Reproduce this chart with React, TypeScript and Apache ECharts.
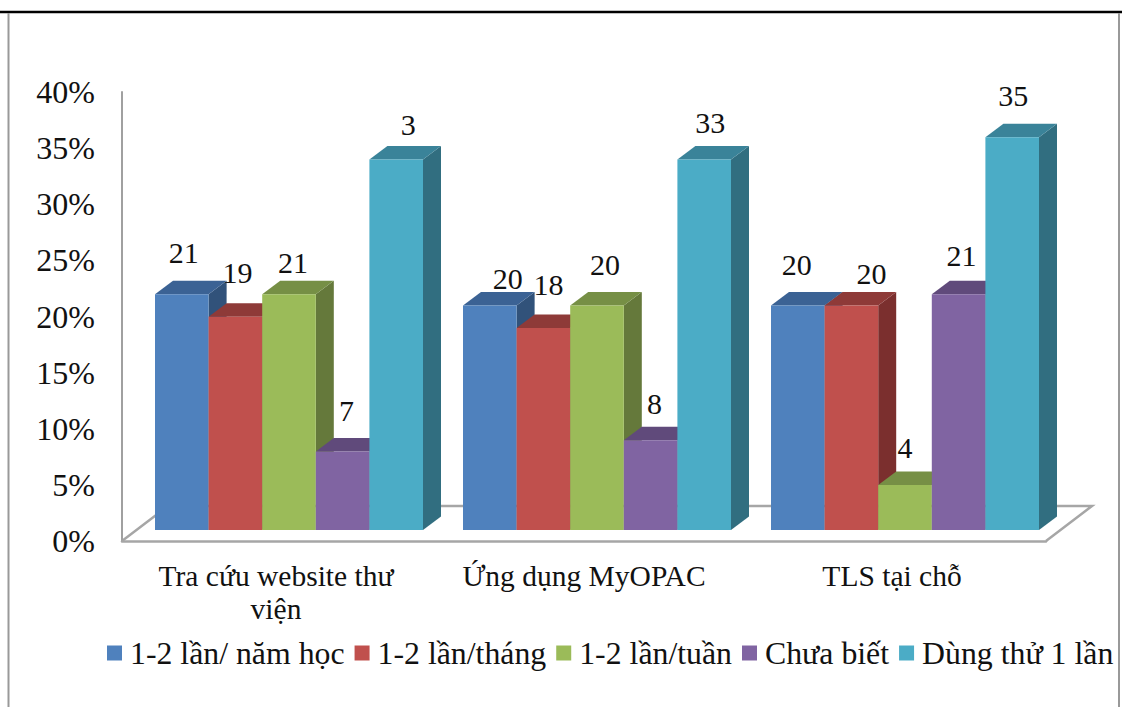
import React, { useEffect, useRef } from "react";
import * as echarts from "echarts";

// Survey of how often each library service is used, by frequency of use.
const categories = ["Tra cứu website thư\nviện", "Ứng dụng MyOPAC", "TLS tại chỗ"];
const seriesNames = ["1-2 lần/ năm học", "1-2 lần/tháng", "1-2 lần/tuần", "Chưa biết", "Dùng thử 1 lần"];
const yearlyUse = [21, 20, 20];
const monthlyUse = [19, 18, 20];
const weeklyUse = [21, 20, 4];
const unknownUse = [7, 8, 21];
const triedOnce = [33, 33, 35];
const valuesBySeries = [yearlyUse, monthlyUse, weeklyUse, unknownUse, triedOnce];

// Printed data labels; the first "Dùng thử 1 lần" label is printed as a lone 3.
const labelsBySeries = [
  ["21", "20", "20"],
  ["19", "18", "20"],
  ["21", "20", "4"],
  ["7", "8", "21"],
  ["3", "33", "35"],
];

// Hand placement of each data label, relative to the top centre of its bar.
const labelNudges: [number, number][][] = [
  [[2, -42], [18, -27], [-1, -41]],
  [[2, -44], [5, -43], [20, -32]],
  [[4, -32], [8, -41], [0, -38]],
  [[4, -41], [4, -37], [3, -39]],
  [[12, -35], [6, -37], [1, -42]],
];

const frontColors = ["#4F81BD", "#C0504D", "#9BBB59", "#8064A2", "#4BACC6"];
const topColors = ["#3B6294", "#8E3A38", "#768F45", "#604A7B", "#3A8399"];
const sideColors = ["#31527A", "#7B2F2E", "#65793B", "#534068", "#316E80"];

const FONT = "'Liberation Serif', 'Times New Roman', serif";
const GRID = { left: 122, top: 92, width: 924, height: 449 };
const BAR_WIDTH = 53.6;
const PLANE_SHIFT = [13, -11]; // front faces sit a little behind the floor's front edge
const BAR_DEPTH = [18, -13.5];
const FLOOR_DEPTH = [46, -35];

function barRenderer(seriesIndex: number) {
  return (params: any, api: any) => {
    const catIndex = api.value(0);
    const value = api.value(1);
    const base = api.coord([catIndex, 0]);
    const tip = api.coord([catIndex, value]);
    const cx = base[0] + PLANE_SHIFT[0] + (seriesIndex - 2) * BAR_WIDTH;
    const x0 = cx - BAR_WIDTH / 2;
    const x1 = cx + BAR_WIDTH / 2;
    const y0 = base[1] + PLANE_SHIFT[1];
    const y1 = tip[1] + PLANE_SHIFT[1];
    const [dx, dy] = BAR_DEPTH;
    const nudge = labelNudges[seriesIndex][catIndex];
    return {
      type: "group",
      children: [
        {
          type: "polygon",
          shape: { points: [[x1, y0], [x1 + dx, y0 + dy], [x1 + dx, y1 + dy], [x1, y1]] },
          style: { fill: sideColors[seriesIndex] },
        },
        {
          type: "polygon",
          shape: { points: [[x0, y1], [x0 + dx, y1 + dy], [x1 + dx, y1 + dy], [x1, y1]] },
          style: { fill: topColors[seriesIndex] },
        },
        {
          type: "rect",
          shape: { x: x0, y: y1, width: BAR_WIDTH, height: y0 - y1 },
          style: { fill: frontColors[seriesIndex] },
        },
        {
          type: "text",
          z2: 100,
          x: cx + nudge[0],
          y: y1 + nudge[1],
          style: {
            text: labelsBySeries[seriesIndex][catIndex],
            fill: "#111",
            font: `30px ${FONT}`,
            textAlign: "center",
            textVerticalAlign: "middle",
          },
        },
      ],
    };
  };
}

export default function App() {
  const ref = useRef<HTMLDivElement>(null);

  useEffect(() => {
    document.body.style.margin = "0";
    const chart = echarts.init(ref.current!, undefined, { renderer: "svg" });
    const floorY = GRID.top + GRID.height;
    const floorRight = GRID.left + GRID.width;
    chart.setOption({
      animation: false,
      backgroundColor: "#ffffff",
      textStyle: { fontFamily: FONT },
      grid: { ...GRID, containLabel: false },
      legend: {
        left: 102,
        top: 632,
        width: 1100,
        icon: "rect",
        itemWidth: 15,
        itemHeight: 15,
        itemGap: 10,
        selectedMode: false,
        data: seriesNames,
        textStyle: { fontFamily: FONT, fontSize: 31.8, color: "#111", padding: [0, 0, 0, 3] },
      },
      xAxis: {
        type: "category",
        data: categories,
        axisTick: { show: false },
        axisLine: { show: true, lineStyle: { color: "#a6a6a6", width: 2.5 } },
        axisLabel: {
          interval: 0,
          margin: 18,
          lineHeight: 33,
          fontFamily: FONT,
          fontSize: 29.5,
          color: "#111",
        },
      },
      yAxis: {
        type: "value",
        min: 0,
        max: 40,
        interval: 5,
        splitLine: { show: false },
        axisTick: { show: false },
        axisLine: { show: true, lineStyle: { color: "#a0a0a0", width: 2 } },
        axisLabel: {
          formatter: "{value}%",
          margin: 27,
          fontFamily: FONT,
          fontSize: 32,
          color: "#111",
          padding: [0, 0, 2, 0],
        },
      },
      graphic: [
        // Floor of the 3-D plot, behind the bars
        {
          type: "polyline",
          z: 0,
          shape: {
            points: [
              [GRID.left, floorY],
              [GRID.left + FLOOR_DEPTH[0], floorY + FLOOR_DEPTH[1]],
              [floorRight + FLOOR_DEPTH[0], floorY + FLOOR_DEPTH[1]],
              [floorRight, floorY],
            ],
          },
          style: { fill: "none", stroke: "#a6a6a6", lineWidth: 2.5 },
        },
        // Table cell borders around the chart
        { type: "line", z: 0, shape: { x1: 0, y1: 12, x2: 1122, y2: 12 }, style: { stroke: "#000", lineWidth: 2.5 } },
        { type: "line", z: 0, shape: { x1: 8.5, y1: 13, x2: 8.5, y2: 707 }, style: { stroke: "#999", lineWidth: 2 } },
        { type: "line", z: 0, shape: { x1: 1119, y1: 13, x2: 1119, y2: 707 }, style: { stroke: "#999", lineWidth: 2 } },
      ],
      series: seriesNames.map((name, i) => ({
        name,
        type: "custom",
        coordinateSystem: "cartesian2d",
        itemStyle: { color: frontColors[i] },
        encode: { x: 0, y: 1 },
        data: valuesBySeries[i].map((v, j) => [j, v]),
        renderItem: barRenderer(i),
      })),
    });
    return () => chart.dispose();
  }, []);

  return <div ref={ref} style={{ position: "absolute", left: 0, top: 0, width: 1122, height: 707 }} />;
}
